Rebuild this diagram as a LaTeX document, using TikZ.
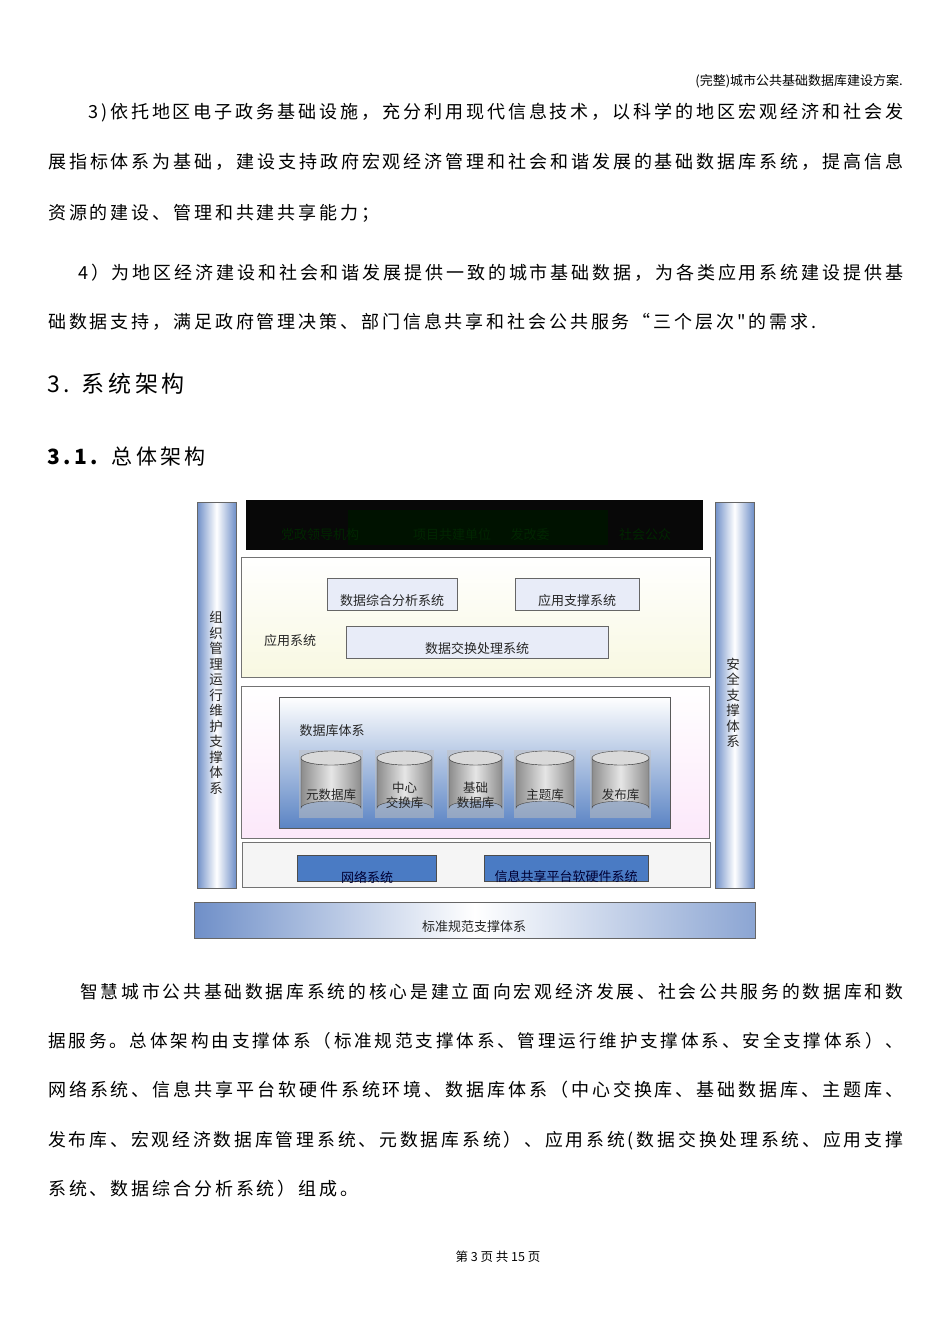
\documentclass[tikz,border=0pt]{standalone}
\usepackage{fontspec}
\setmainfont{Noto Sans CJK SC}
\newfontfamily\bodyf[LetterSpace=16]{Noto Sans CJK SC}
\usetikzlibrary{shapes.geometric}
\newcommand\jline[2]{\resizebox{#1pt}{!}{#2}}
\definecolor{pil}{HTML}{6F8FC8}
\definecolor{dbblue}{HTML}{5B84C4}
\definecolor{netblue}{HTML}{4A7BC4}
\begin{document}
\begin{tikzpicture}[x=1pt,y=-1pt,
  body/.style={anchor=base west,inner sep=0pt,font=\bodyf\fontsize{18pt}{18pt}\selectfont},
  dg/.style={inner sep=0pt,font=\fontsize{13pt}{14pt}\selectfont,text=black!85},
  appbox/.style={draw=black!60,fill={rgb,255:red,232;green,236;blue,248}},
  netbox/.style={draw=black!70,fill=netblue},
  region/.style={draw=black!55,line width=0.8pt}]
\useasboundingbox[fill=white] (0,0) rectangle (950,1344);
% header
\node[anchor=base east,inner sep=0pt,font=\fontsize{13pt}{13pt}\selectfont] (hdr) at (903,85) {(完整)城市公共基础数据库建设方案.};
% paragraph 1
\node[body] (p1) at (88,118) {\jline{815}{3)依托地区电子政务基础设施，充分利用现代信息技术，以科学的地区宏观经济和社会发}};
\node[body] (p2) at (48,168) {\jline{855}{展指标体系为基础，建设支持政府宏观经济管理和社会和谐发展的基础数据库系统，提高信息}};
\node[body] (p3) at (48,219) {资源的建设、管理和共建共享能力；};
\node[body] (p4) at (78,279) {\jline{825}{4）为地区经济建设和社会和谐发展提供一致的城市基础数据，为各类应用系统建设提供基}};
\node[body] (p5) at (48,328) {础数据支持，满足政府管理决策、部门信息共享和社会公共服务“三个层次"的需求.};
\node[anchor=base west,inner sep=0pt,font=\bodyf\fontsize{23pt}{23pt}\selectfont] (h3) at (47,392) {3. 系统架构};
\node[anchor=base west,inner sep=0pt,font=\bodyf\fontsize{21pt}{21pt}\selectfont] (h31) at (47,464) {\textbf{3.1.} 总体架构};
% ===== diagram =====
\shade[left color=pil,right color=pil,middle color=white,draw=black!60] (197,502) rectangle (236,888);
\shade[left color=pil,right color=pil,middle color=white,draw=black!60] (715,502) rectangle (754,888);
\node[dg,align=center,font=\fontsize{13.5pt}{15.5pt}\selectfont] (lp) at (216,703) {组\\织\\管\\理\\运\\行\\维\\护\\支\\撑\\体\\系};
\node[dg,align=center,font=\fontsize{13.5pt}{15.5pt}\selectfont] (rp) at (733,703) {安\\全\\支\\撑\\体\\系};
% top black bar
\fill[black!97] (246,500) rectangle (703,550);
\fill[black!93!green] (348,510) rectangle (608,545);
\foreach \t/\xx [count=\i] in {党政领导机构/320,项目共建单位/452,发改委/530,社会公众/645}
  \node[dg,text=black!85!green] (top\i) at (\xx,535) {\t};
% application area
\shade[top color=white,bottom color={rgb,255:red,248;green,248;blue,225},draw=black!55] (241,557) rectangle (710,677);
\node[appbox,minimum width=130pt,minimum height=32pt] (a1) at (392,594) {};
\node[dg] at (392,601) {数据综合分析系统};
\node[appbox,minimum width=124pt,minimum height=32pt] (a2) at (577,594) {};
\node[dg] at (577,601) {应用支撑系统};
\node[appbox,minimum width=262pt,minimum height=32pt] (a3) at (477,642) {};
\node[dg] at (477,649) {数据交换处理系统};
\node[dg] (applbl) at (290,641) {应用系统};
% database area
\shade[top color=white,bottom color={rgb,255:red,252;green,232;blue,250},draw=black!55] (241,686) rectangle (709,838);
\shade[top color=white,bottom color=dbblue,draw=black!65] (279,697) rectangle (670,828);
\node[dg] (dblbl) at (332,731) {数据库体系};
\foreach \xa/\xb/\t [count=\i] in {299/363/元数据库,375/434/{中心\\交换库},447/504/{基础\\数据库},514/576/主题库,590/651/发布库}{
  \fill[black!25,opacity=0.5] (\xa,750) rectangle (\xb,818);
  \pgfmathsetmacro\xm{(\xa+\xb)/2}
  \pgfmathsetmacro\rx{(\xb-\xa)/2-2}
  \shade[left color=black!45,right color=black!45,middle color=black!10,draw=black!75]
     (\xa+2,758) -- (\xa+2,808) arc[start angle=180,end angle=360,x radius=\rx,y radius=7] -- (\xb-2,758) arc[start angle=0,end angle=180,x radius=\rx,y radius=7] -- cycle;
  \draw[black!75,fill=black!15] (\xm,758) ellipse[x radius=\rx,y radius=7];
  \node[dg,align=center,font=\fontsize{12.5pt}{15pt}\selectfont] (db\i) at (\xm,795) {\t};
}
% infrastructure area
\fill[black!4] (242,842) rectangle (710,887);
\draw[black!55] (242,842) rectangle (710,887);
\node[netbox,minimum width=139pt,minimum height=26pt] (n1) at (366.5,868) {};
\node[dg,text=black!80!blue] at (367,877) {网络系统};
\node[netbox,minimum width=164pt,minimum height=26pt] (n2) at (566,868) {};
\node[dg,text=black!80!blue] at (566,877) {信息共享平台软硬件系统};
% bottom bar
\shade[left color=pil,right color=pil!80,middle color=white,draw=black!60] (194,902) rectangle (755,938);
\node[dg] (std) at (474,927) {标准规范支撑体系};
% ===== bottom paragraph =====
\node[body] (q1) at (80,998) {\jline{823}{智慧城市公共基础数据库系统的核心是建立面向宏观经济发展、社会公共服务的数据库和数}};
\node[body] (q2) at (48,1047) {\jline{855}{据服务。总体架构由支撑体系（标准规范支撑体系、管理运行维护支撑体系、安全支撑体系）、}};
\node[body] (q3) at (48,1096) {\jline{855}{网络系统、信息共享平台软硬件系统环境、数据库体系（中心交换库、基础数据库、主题库、}};
\node[body] (q4) at (48,1146) {\jline{855}{发布库、宏观经济数据库管理系统、元数据库系统）、应用系统(数据交换处理系统、应用支撑}};
\node[body] (q5) at (48,1195) {系统、数据综合分析系统）组成。};
\node[inner sep=0pt,font=\fontsize{12.5pt}{13pt}\selectfont] (ft) at (498,1257) {第 3 页 共 15 页};
\end{tikzpicture}
\end{document}
